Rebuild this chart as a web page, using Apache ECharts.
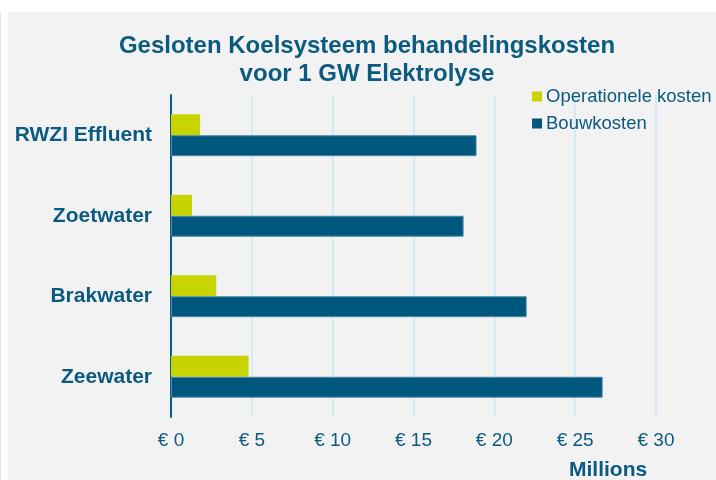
<!DOCTYPE html>
<html>
<head>
<meta charset="utf-8">
<script src="https://cdn.jsdelivr.net/npm/echarts@6/dist/echarts.min.js"></script>
<style>
  html, body { margin: 0; padding: 0; background: #fff; }
  #chart { width: 716px; height: 480px; }
</style>
</head>
<body>
<div id="chart"></div>
<script>
// categorieën, van boven naar beneden
const categories = ['RWZI Effluent', 'Zoetwater', 'Brakwater', 'Zeewater']
// kosten in miljoenen euro
const operationeleKosten = [1.8, 1.3, 2.8, 4.8]
const bouwkosten = [18.9, 18.1, 22.0, 26.7]
const xTicks = { min: 0, max: 30, interval: 5 }

const FONT = '"Liberation Sans", Arial, sans-serif'
const BLUE = '#0b5a7f'

const chart = echarts.init(document.getElementById('chart'))

chart.setOption({
  backgroundColor: '#fff',
  textStyle: { fontFamily: FONT },
  graphic: [
    {
      type: 'rect',
      z: -10,
      shape: { x: 8, y: 12, width: 708, height: 468 },
      style: { fill: '#f2f2f2' }
    },
    {
      type: 'rect',
      z: -10,
      shape: { x: 0, y: 12, width: 1, height: 468 },
      style: { fill: '#e6e6e6' }
    },
    {
      type: 'text',
      x: 569,
      y: 470,
      style: {
        text: 'Millions',
        fill: BLUE,
        font: 'bold 21px ' + FONT,
        textAlign: 'left',
        textVerticalAlign: 'middle'
      }
    },
    {
      // titel, gecentreerd rond x = 367
      type: 'text',
      x: 367,
      y: 60,
      style: {
        text: 'Gesloten Koelsysteem behandelingskosten\nvoor 1 GW Elektrolyse',
        fill: BLUE,
        font: 'bold 24px ' + FONT,
        lineHeight: 28,
        textAlign: 'center',
        textVerticalAlign: 'middle'
      }
    }
  ],
  legend: {
    orient: 'vertical',
    left: 527,
    top: 82,
    itemWidth: 10,
    itemHeight: 10,
    itemGap: 8,
    icon: 'rect',
    data: ['Operationele kosten', 'Bouwkosten'],
    itemStyle: { borderWidth: 0 },
    textStyle: { color: BLUE, fontSize: 18.5, lineHeight: 19, padding: [0, 0, 0, -1] }
  },
  grid: { left: 171, right: 60, top: 95, bottom: 63 },
  xAxis: {
    type: 'value',
    min: xTicks.min,
    max: xTicks.max,
    interval: xTicks.interval,
    axisLine: { show: false },
    axisTick: { show: false },
    axisLabel: {
      color: BLUE,
      fontSize: 19,
      margin: 14,
      formatter: v => '€ ' + v
    },
    splitLine: { lineStyle: { color: '#d3ebf8', width: 2 } }
  },
  yAxis: {
    type: 'category',
    inverse: true,
    data: categories,
    axisLine: { lineStyle: { color: BLUE, width: 2 } },
    axisTick: { show: false },
    axisLabel: {
      color: BLUE,
      fontSize: 21,
      fontWeight: 'bold',
      margin: 19
    }
  },
  series: [
    {
      name: 'Operationele kosten',
      type: 'bar',
      data: operationeleKosten,
      barGap: '0%',
      barCategoryGap: '48%',
      itemStyle: { color: '#c8d400' }
    },
    {
      name: 'Bouwkosten',
      type: 'bar',
      data: bouwkosten,
      barGap: '0%',
      barCategoryGap: '48%',
      itemStyle: { color: '#00577d', borderColor: '#4d88a6', borderWidth: 1 }
    }
  ]
})
</script>
</body>
</html>
